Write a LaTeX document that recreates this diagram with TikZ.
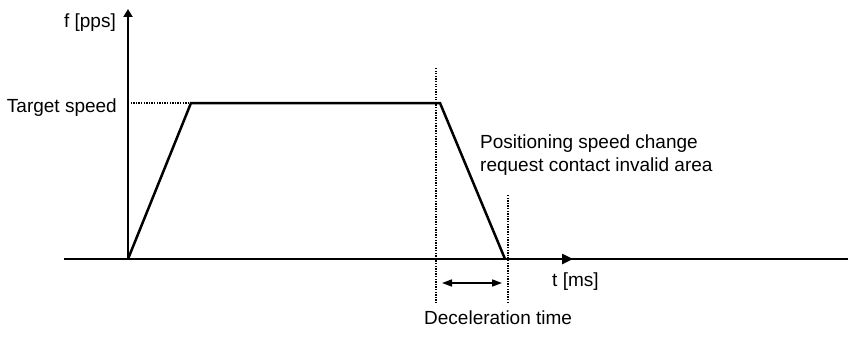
\documentclass[tikz,border=0pt]{standalone}
\usepackage{fontspec}
\setmainfont{Liberation Sans}
\usetikzlibrary{arrows.meta}
\begin{document}
\begin{tikzpicture}[x=1pt,y=-1pt,
  lbl/.style={inner sep=0pt,font=\fontsize{19}{23}\selectfont},
  axis/.style={line width=2.4pt},
  curve/.style={line width=2.5pt,line join=miter},
  dotline/.style={line width=1.4pt,dash pattern=on 1.3pt off 1.3pt},
  dimarrow/.style={line width=1.6pt,{Triangle[length=10pt,width=7pt]}-{Triangle[length=10pt,width=7pt]}}]
\useasboundingbox (0,0) rectangle (854,337);
% axes
\coordinate (O) at (128,259);
\coordinate (ytop) at (128,9);
\coordinate (xl) at (64,259);
\coordinate (xr) at (848,259);
\coordinate (xarr) at (573,259);
\draw[axis] (xl) -- (xr);
\draw[axis,-{Triangle[length=11pt,width=10pt]}] (xl) -- (xarr);
\draw[axis,-{Triangle[length=8pt,width=9pt]}] (O) -- (ytop);
% profile
\coordinate (p1) at (191,103);
\coordinate (p2) at (440,103);
\coordinate (p3) at (505,259);
\coordinate (ts) at (128,103);
\draw[curve] (O) -- (p1) -- (p2) -- (p3);
\draw[dotline] (ts) -- (p1);
% dotted markers
\coordinate (d1t) at (436,68);
\coordinate (d1b) at (436,303);
\coordinate (d2t) at (508,195);
\coordinate (d2b) at (508,303);
\draw[dotline] (d1t) -- (d1b);
\draw[dotline] (d2t) -- (d2b);
\coordinate (a1) at (442,283);
\coordinate (a2) at (502,283);
\draw[dimarrow] (a1) -- (a2);
% labels
\node[lbl,anchor=base east] (fl) at (116,28) {f [pps]};
\node[lbl,anchor=base east] (tsl) at (117,112) {Target speed};
\node[lbl,anchor=base west] (tl) at (552,286) {t [ms]};
\node[lbl,anchor=base west] (dl) at (424,324) {Deceleration time};
\node[lbl,anchor=base west] (pl1) at (480,148) {Positioning speed change};
\node[lbl,anchor=base west] (pl2) at (480,171) {request contact invalid area};
\end{tikzpicture}
\end{document}
